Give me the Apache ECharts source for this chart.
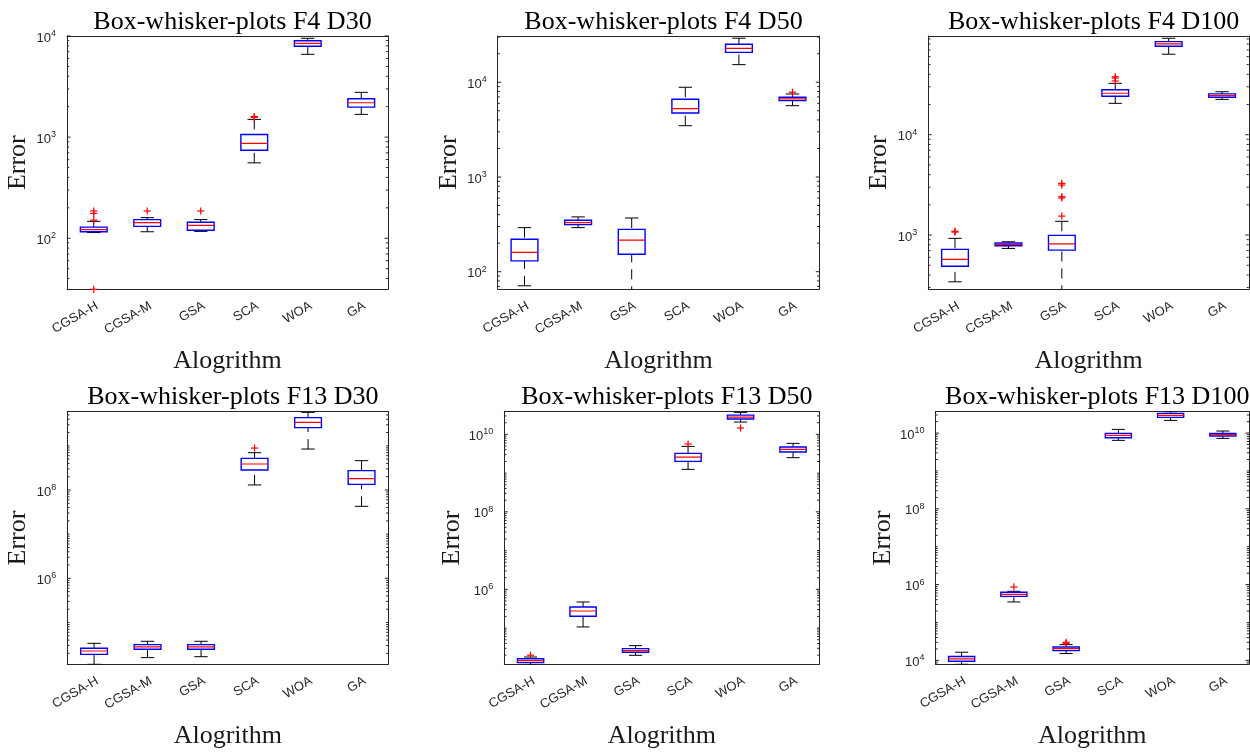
<!DOCTYPE html>
<html><head><meta charset="utf-8">
<script src="https://cdn.jsdelivr.net/npm/echarts@6/dist/echarts.min.js"></script>
<style>html,body{margin:0;padding:0;background:#fff}#c{width:1250px;height:754px}</style>
</head><body><div id="c"></div>
<script>
const categories = ['CGSA-H', 'CGSA-M', 'GSA', 'SCA', 'WOA', 'GA'];
const panelTitles = ['Box-whisker-plots F4 D30', 'Box-whisker-plots F4 D50', 'Box-whisker-plots F4 D100',
  'Box-whisker-plots F13 D30', 'Box-whisker-plots F13 D50', 'Box-whisker-plots F13 D100'];

// each row: [lower whisker, Q1, median, Q3, upper whisker]
const f4d30Boxes = [[114, 116, 122, 129, 147], [116, 131, 143, 153, 160], [117, 120, 134, 144, 153],
  [557, 743, 867, 1063, 1497], [6590, 7913, 8470, 8981, 9490], [1679, 1982, 2188, 2393, 2773]];
const f4d30Outliers = [[0, 186], [0, 176], [0, 151], [0, 31.3], [1, 186], [2, 186], [3, 1566], [3, 1600]];

const f4d50Boxes = [[71, 130, 160, 220, 292], [292, 314, 329, 349, 379], [55, 153, 216, 280, 369],
  [3480, 4741, 5260, 6610, 8860], [15350, 20700, 22850, 25200, 29200], [5660, 6400, 6670, 6950, 7520]];
const f4d50Outliers = [[5, 7840]];

const f4d100Boxes = [[342, 488, 573, 720, 927], [736, 782, 807, 832, 857], [250, 708, 818, 993, 1371],
  [20540, 24200, 25900, 28100, 32500], [63400, 76000, 80200, 84600, 91400], [22500, 23600, 24500, 25500, 26800]];
const f4d100Outliers = [[0, 1089], [0, 1070], [2, 1545], [2, 2340], [2, 2410], [2, 3150], [2, 3270],
  [3, 34300], [3, 36700], [3, 37800]];

const f13d30Boxes = [[11300, 19000, 22600, 26000, 33700], [16000, 24700, 27900, 31500, 37500],
  [16800, 24700, 27900, 31500, 37500], [1.30e8, 2.84e8, 3.88e8, 5.21e8, 7.0e8],
  [8.47e8, 2.58e9, 3.40e9, 4.35e9, 5.73e9], [4.27e7, 1.34e8, 1.81e8, 2.74e8, 4.62e8]];
const f13d30Outliers = [[3, 8.9e8]];

const f13d50Boxes = [[11500, 12800, 14400, 16200, 17900], [107000, 201000, 276000, 350000, 471000],
  [19800, 23700, 26100, 29400, 35200], [1.25e9, 2.01e9, 2.60e9, 3.24e9, 4.90e9],
  [2.08e10, 2.49e10, 2.80e10, 3.15e10, 3.70e10], [2.50e9, 3.50e9, 4.10e9, 4.71e9, 5.86e9]];
const f13d50Outliers = [[0, 19900], [3, 5.64e9], [4, 1.46e10]];

const f13d100Boxes = [[7870, 9440, 10900, 12600, 16400], [348000, 490000, 553000, 625000, 664000],
  [15200, 18100, 20400, 22600, 26000], [6.41e9, 7.53e9, 8.67e9, 9.8e9, 1.25e10],
  [2.16e10, 2.59e10, 2.93e10, 3.3e10, 3.66e10], [7.23e9, 8.34e9, 9.04e9, 9.8e9, 1.13e10]];
const f13d100Outliers = [[1, 865000], [2, 27600], [2, 30000]];

const yRanges = [[31.3, 1e4], [65.2, 30800], [288, 96300], [11300, 5.93e9], [11600, 3.85e10], [7870, 3.66e10]];
const labelExponents = [[2, 3, 4], [2, 3, 4], [3, 4], [6, 8], [6, 8, 10], [4, 6, 8, 10]];

const allBoxes = [f4d30Boxes, f4d50Boxes, f4d100Boxes, f13d30Boxes, f13d50Boxes, f13d100Boxes];
const allOutliers = [f4d30Outliers, f4d50Outliers, f4d100Outliers, f13d30Outliers, f13d50Outliers, f13d100Outliers];

// layout
const gridRects = [
  {left: 67, top: 36, width: 321, height: 253.3},
  {left: 497.7, top: 36, width: 321.6, height: 253.3},
  {left: 928.3, top: 36, width: 320.5, height: 253.3},
  {left: 67.3, top: 411.7, width: 321, height: 252.6},
  {left: 504.3, top: 411.7, width: 315, height: 252.6},
  {left: 935.5, top: 411.7, width: 313.5, height: 252.6}
];
const titleTops = [4, 4, 4, 379, 379, 379];

const AX = '#262626';
const SANS = 'Liberation Sans';
const SERIF = 'Liberation Serif';

function tickList(range, majors) {
  const out = [];
  const k0 = Math.floor(Math.log10(range[0])), k1 = Math.ceil(Math.log10(range[1]));
  for (let k = k0; k <= k1; k++) {
    for (let m = 1; m <= 9; m++) {
      const v = m * Math.pow(10, k);
      if (v >= range[0] * 0.9999 && v <= range[1] * 1.0001) {
        out.push([0, v, (m === 1 && majors.includes(k)) ? 3.5 : 2.2]);
      }
    }
  }
  return out;
}

const grid = [], xAxis = [], yAxis = [], series = [], title = [];
gridRects.forEach((g, i) => {
  grid.push(Object.assign({containLabel: false, outerBoundsMode: 'none'}, g));
  title.push({
    text: panelTitles[i], left: g.left + g.width / 2, top: titleTops[i], textAlign: 'center',
    textStyle: {fontFamily: SERIF, fontSize: 26, fontWeight: 'normal', color: '#000'}
  });
  const exps = labelExponents[i];
  xAxis.push({
    type: 'category', gridIndex: i, data: categories, position: 'bottom',
    name: 'Alogrithm', nameLocation: 'middle', nameGap: 59,
    nameTextStyle: {fontFamily: SERIF, fontSize: 26, color: '#1a1a1a'},
    axisLine: {onZero: false, lineStyle: {color: AX, width: 1}},
    axisTick: {inside: true, alignWithLabel: true, length: 3.5, lineStyle: {color: AX}},
    axisLabel: {rotate: 30, interval: 0, margin: 10, align: 'right', verticalAlign: 'top',
      fontFamily: SANS, fontSize: 13, color: AX},
    splitLine: {show: false}
  });
  xAxis.push({
    type: 'category', gridIndex: i, data: categories, position: 'top',
    axisLine: {onZero: false, lineStyle: {color: AX, width: 1}},
    axisTick: {inside: true, alignWithLabel: true, length: 3.5, lineStyle: {color: AX}},
    axisLabel: {show: false}, splitLine: {show: false}
  });
  yAxis.push({
    type: 'log', gridIndex: i, position: 'left', min: yRanges[i][0], max: yRanges[i][1],
    name: 'Error', nameLocation: 'middle', nameGap: 36, nameRotate: 90,
    nameTextStyle: {fontFamily: SERIF, fontSize: 26, color: '#1a1a1a'},
    axisLine: {show: true, onZero: false, lineStyle: {color: AX, width: 1}},
    axisTick: {show: false}, splitLine: {show: false}, minorTick: {show: false},
    axisLabel: {
      margin: 11, color: AX,
      formatter: function (v) {
        const l = Math.log10(v), e = Math.round(l);
        if (Math.abs(l - e) > 1e-6 || exps.indexOf(e) < 0) return '';
        return '{b|10}{s|' + e + '}';
      },
      rich: {
        b: {fontFamily: SANS, fontSize: 13, color: AX, padding: [4, 0, 0, 0]},
        s: {fontFamily: SANS, fontSize: 9, color: AX, padding: [0, 0, 5, 0]}
      }
    }
  });
  yAxis.push({
    type: 'log', gridIndex: i, position: 'right', min: yRanges[i][0], max: yRanges[i][1],
    axisLine: {show: true, onZero: false, lineStyle: {color: AX, width: 1}},
    axisTick: {show: false}, axisLabel: {show: false}, splitLine: {show: false}
  });

  // y ticks (major + minor, left and right)
  series.push({
    type: 'custom', xAxisIndex: 2 * i, yAxisIndex: 2 * i, silent: true, clip: false,
    encode: {x: 0, y: 1},
    data: tickList(yRanges[i], exps),
    renderItem: function (params, api) {
      const cs = params.coordSys;
      const y = api.coord([0, api.value(1)])[1];
      const len = api.value(2);
      const st = {stroke: AX, lineWidth: 1};
      return {type: 'group', children: [
        {type: 'line', shape: {x1: cs.x, y1: y, x2: cs.x + len, y2: y}, style: st},
        {type: 'line', shape: {x1: cs.x + cs.width, y1: y, x2: cs.x + cs.width - len, y2: y}, style: st}
      ]};
    }
  });

  // boxes
  series.push({
    type: 'custom', xAxisIndex: 2 * i, yAxisIndex: 2 * i, silent: true, clip: true,
    encode: {x: 0, y: [1, 2, 3, 4, 5]},
    data: allBoxes[i].map((b, k) => [k].concat(b)),
    renderItem: function (params, api) {
      const cs = params.coordSys;
      const band = cs.width / categories.length;
      const c = api.value(0);
      const cx = api.coord([c, api.value(3)])[0];
      const yv = (d) => api.coord([c, api.value(d)])[1];
      const yLow = yv(1), yQ1 = yv(2), yMed = yv(3), yQ3 = yv(4), yHigh = yv(5);
      const hw = band * 0.25, cw = band * 0.125;
      const wst = {stroke: '#000', lineWidth: 1, lineDash: [10, 7]};
      const cst = {stroke: '#000', lineWidth: 1};
      return {type: 'group', children: [
        {type: 'line', shape: {x1: cx, y1: yHigh, x2: cx, y2: yQ3}, style: wst},
        {type: 'line', shape: {x1: cx, y1: yLow, x2: cx, y2: yQ1}, style: wst},
        {type: 'line', shape: {x1: cx - cw, y1: yHigh, x2: cx + cw, y2: yHigh}, style: cst},
        {type: 'line', shape: {x1: cx - cw, y1: yLow, x2: cx + cw, y2: yLow}, style: cst},
        {type: 'rect', shape: {x: cx - hw, y: yQ3, width: 2 * hw, height: yQ1 - yQ3},
          style: {fill: 'rgba(0,0,0,0)', stroke: '#0000ff', lineWidth: 1.4}},
        {type: 'line', shape: {x1: cx - hw, y1: yMed, x2: cx + hw, y2: yMed},
          style: {stroke: '#ff0000', lineWidth: 1.2}}
      ]};
    }
  });

  // outliers
  series.push({
    type: 'custom', xAxisIndex: 2 * i, yAxisIndex: 2 * i, silent: true, clip: false,
    encode: {x: 0, y: 1},
    data: allOutliers[i],
    renderItem: function (params, api) {
      const p = api.coord([api.value(0), api.value(1)]);
      const s = 3.6;
      const st = {stroke: '#ff0000', lineWidth: 1.2};
      return {type: 'group', children: [
        {type: 'line', shape: {x1: p[0] - s, y1: p[1], x2: p[0] + s, y2: p[1]}, style: st},
        {type: 'line', shape: {x1: p[0], y1: p[1] - s, x2: p[0], y2: p[1] + s}, style: st}
      ]};
    }
  });
});

const chart = echarts.init(document.getElementById('c'), null, {renderer: 'canvas'});
chart.setOption({
  backgroundColor: '#fff', animation: false,
  title: title, grid: grid, xAxis: xAxis, yAxis: yAxis, series: series
});
</script>
</body></html>
